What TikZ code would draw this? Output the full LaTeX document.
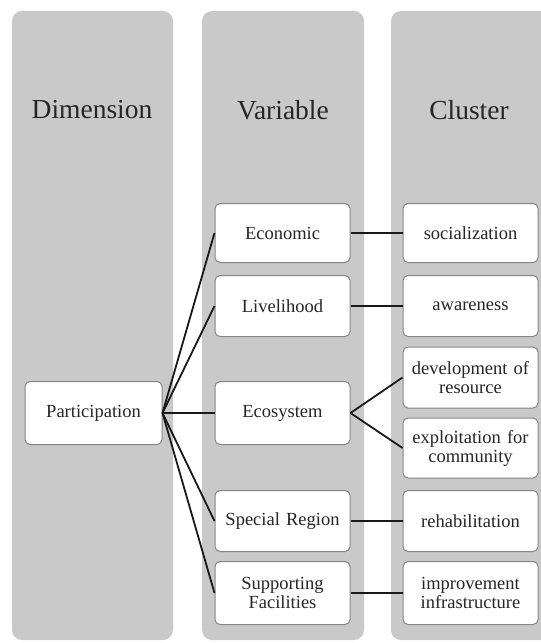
\documentclass[tikz,border=0pt]{standalone}
\usepackage{fontspec}
\setmainfont{Liberation Serif}
\definecolor{colgray}{HTML}{C9C9C9}
\definecolor{boxline}{HTML}{858585}

\begin{document}
\begin{tikzpicture}[x=1pt, y=-1pt,
    column/.style={fill=colgray, rounded corners=10pt},
    heading/.style={font=\fontsize{27.5}{30}\selectfont, text=black!85},
    itembox/.style={rectangle, draw=boxline, line width=1pt, fill=white, rounded corners=5pt,
        minimum width=135pt, minimum height=61pt, text width=133pt, inner sep=1pt,
        align=center, font=\fontsize{18.5}{19}\selectfont, text=black!85},
    link/.style={line width=1.8pt, black!90}]
    \useasboundingbox (0,0) rectangle (541,643);

    % Columns
    \fill[column] (12,11) rectangle (173,640);
    \fill[column] (202,11) rectangle (364,640);
    \begin{scope}
        \clip (0,0) rectangle (541,643);
        \fill[column] (391,11) rectangle (560,640);
    \end{scope}

    % Headings
    \node[heading] (dimension) at (92,110) {Dimension};
    \node[heading] (variable) at (283,110) {Variable};
    \node[heading] (cluster) at (469,110) {Cluster};

    % Dimension
    \node[itembox, minimum width=137pt, minimum height=63pt] (participation) at (93.5,413) {Participation};

    % Variables
    \node[itembox, minimum height=59pt] (economic) at (282.5,233) {Economic};
    \node[itembox] (livelihood) at (282.5,306) {Livelihood};
    \node[itembox, minimum height=63pt] (ecosystem) at (282.5,413) {Ecosystem};
    \node[itembox] (special) at (282.5,521) {Special Region};
    \node[itembox, minimum height=63pt] (supporting) at (282.5,593) {Supporting\\Facilities};

    % Clusters
    \node[itembox, minimum height=59pt] (socialization) at (470.5,233) {socialization};
    \node[itembox] (awareness) at (470.5,306) {awareness};
    \node[itembox] (development) at (470.5,377.5) {development of\\resource};
    \node[itembox, minimum height=60pt] (exploitation) at (470.5,448) {exploitation for\\community};
    \node[itembox] (rehabilitation) at (470.5,521) {rehabilitation};
    \node[itembox, minimum height=63pt] (improvement) at (470.5,593) {improvement\\infrastructure};

    % Links
    \foreach \v in {economic, livelihood, ecosystem, special, supporting}
        \draw[link] (participation.east) -- (\v.west);

    \draw[link] (economic) -- (socialization);
    \draw[link] (livelihood) -- (awareness);
    \draw[link] (ecosystem.east) -- (development.west);
    \draw[link] (ecosystem.east) -- (exploitation.west);
    \draw[link] (special) -- (rehabilitation);
    \draw[link] (supporting) -- (improvement);
\end{tikzpicture}
\end{document}
